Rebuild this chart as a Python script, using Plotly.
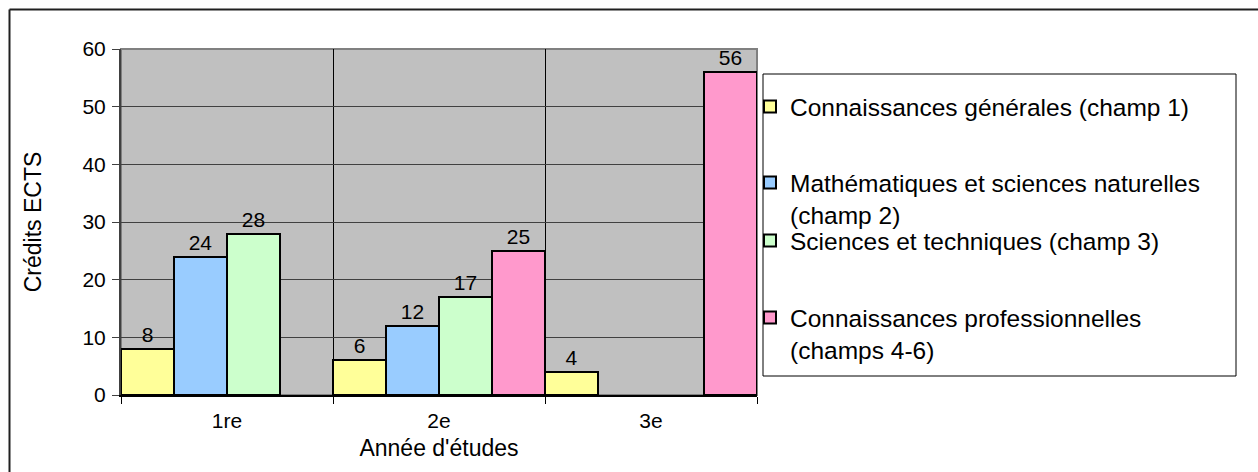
import plotly.graph_objects as go

# Study years (categories) and ECTS credits per field
years = ["1re", "2e", "3e"]
champ1 = [8, 6, 4]
champ2 = [24, 12, None]
champ3 = [28, 17, None]
champ4_6 = [None, 25, 56]

series = [
    ("Connaissances générales (champ 1)", champ1, "#FFFF99"),
    ("Mathématiques et sciences naturelles<br>(champ 2)", champ2, "#99CCFF"),
    ("Sciences et techniques (champ 3)", champ3, "#CCFFCC"),
    ("Connaissances professionnelles<br>(champs 4-6)", champ4_6, "#FF99CC"),
]

y_ticks = [0, 10, 20, 30, 40, 50, 60]

FONT = "Liberation Sans, Arial, sans-serif"
W, H = 1258, 472
L, R, T, B = 121, 757, 49, 395  # plot area box in pixels


def paper_x(px):
    return (px - L) / (R - L)


def paper_y(py):
    return (B - py) / (B - T)


fig = go.Figure()

legend_ids = ["legend", "legend2", "legend3", "legend4"]
for (name, vals, color), lid in zip(series, legend_ids):
    fig.add_trace(
        go.Bar(
            x=years,
            y=vals,
            name=name,
            marker=dict(color=color, line=dict(color="black", width=2)),
            text=[v if v is not None else "" for v in vals],
            textposition="outside",
            textfont=dict(size=21, color="black", family=FONT),
            constraintext="none",
            cliponaxis=False,
            showlegend=True,
            legend=lid,
        )
    )

# one legend block per series, placed inside a common frame
legend_box = (763, 74, 1236, 376)
first_line_centers = [107, 183, 241, 318]
legend_layout = {}
for lid, yc in zip(legend_ids, first_line_centers):
    legend_layout[lid] = dict(
        xref="container",
        yref="container",
        x=750 / W,
        y=1 - (yc - 23) / H,
        xanchor="left",
        yanchor="top",
        bgcolor="rgba(0,0,0,0)",
        borderwidth=0,
        valign="top",
        font=dict(size=24.5, color="black", family=FONT),
        visible=True,
    )

fig.update_layout(
    width=W,
    height=H,
    margin=dict(l=L, r=W - R, t=T, b=H - B, autoexpand=False),
    paper_bgcolor="white",
    plot_bgcolor="#C0C0C0",
    barmode="group",
    bargap=0,
    bargroupgap=0,
    showlegend=True,
    font=dict(family=FONT, size=21, color="black"),
    **legend_layout,
)

fig.update_xaxes(
    type="category",
    tickson="boundaries",
    ticks="outside",
    ticklen=7,
    tickcolor="black",
    tickwidth=1,
    showgrid=True,
    gridcolor="black",
    gridwidth=1,
    showline=True,
    linecolor="black",
    linewidth=2,
    tickfont=dict(size=21),
    ticklabelstandoff=6,
    title=dict(text="Année d'études", font=dict(size=23), standoff=9),
    automargin=False,
)

fig.update_yaxes(
    range=[0, 60],
    tickvals=y_ticks,
    ticks="outside",
    ticklen=7,
    tickcolor="#404040",
    tickwidth=1,
    showgrid=True,
    gridcolor="#404040",
    gridwidth=1,
    zeroline=False,
    showline=True,
    linecolor="#404040",
    linewidth=2,
    tickfont=dict(size=21),
    ticklabelstandoff=2,
    title=dict(text="Crédits ECTS", font=dict(size=23), standoff=34),
    automargin=False,
)

shapes = [
    # plot area frame
    dict(type="rect", xref="x domain", yref="y domain", x0=0, y0=0, x1=1, y1=1,
         line=dict(color="#808080", width=2), layer="below"),
    # legend frame
    dict(type="rect", xref="paper", yref="paper",
         x0=paper_x(legend_box[0]), y0=paper_y(legend_box[3]),
         x1=paper_x(legend_box[2]), y1=paper_y(legend_box[1]),
         line=dict(color="black", width=1)),
    # chart frame (top and left edges)
    dict(type="line", xref="paper", yref="paper",
         x0=paper_x(9.5), y0=paper_y(9.5), x1=paper_x(W + 5), y1=paper_y(9.5),
         line=dict(color="#202020", width=2)),
    dict(type="line", xref="paper", yref="paper",
         x0=paper_x(9.5), y0=paper_y(9.5), x1=paper_x(9.5), y1=paper_y(H + 5),
         line=dict(color="#202020", width=2)),
]
fig.update_layout(shapes=shapes)

fig.write_html("out.html")
